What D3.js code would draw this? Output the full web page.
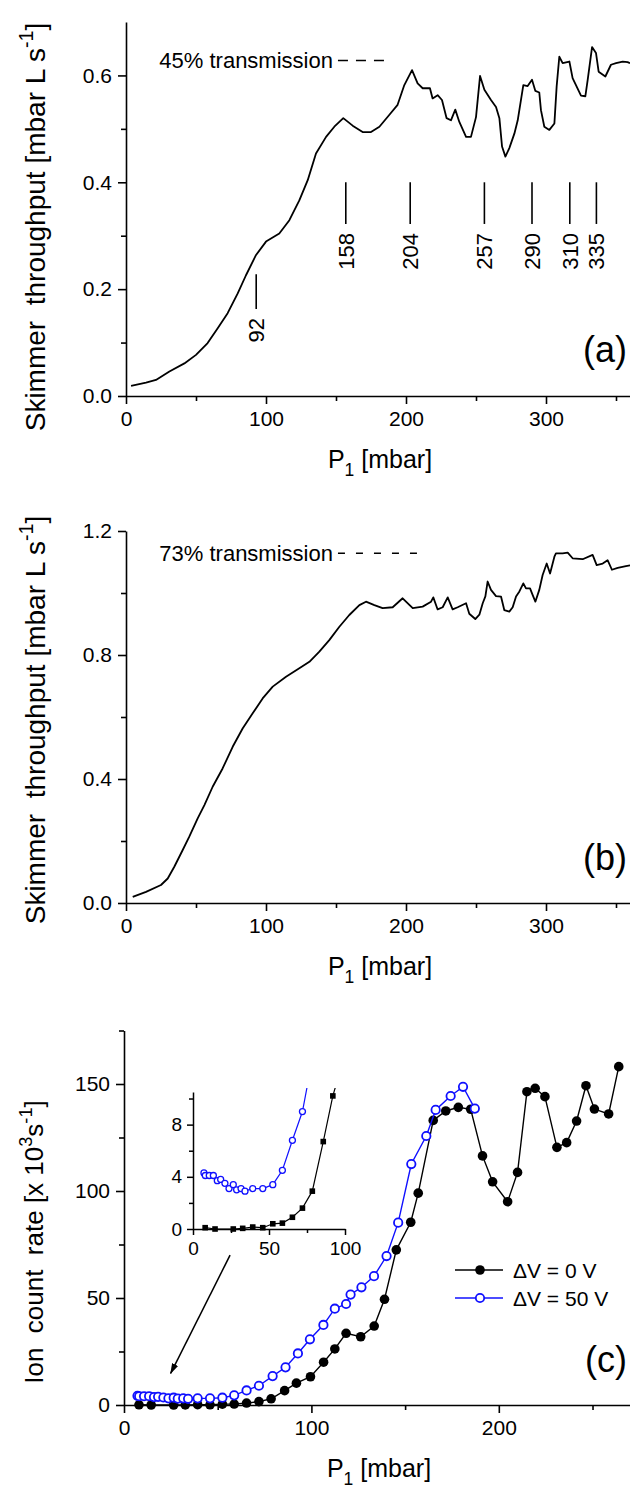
<!DOCTYPE html>
<html>
<head>
<meta charset="utf-8">
<script src="https://cdn.jsdelivr.net/npm/d3@7"></script>
<style>
  body { margin: 0; background: #fff; }
  svg text { font-family: "Liberation Sans", Arial, Helvetica, sans-serif; fill: #000; }
</style>
</head>
<body>
<svg id="fig" width="630" height="1490"></svg>
<script>
// ---- panel (a): skimmer throughput, 45% transmission
const pressureA = [3.6,14.3,21.4,31,41.7,50,58.3,65.5,72.6,79.8,85.7,92.9,100,109.5,116.7,123.8,129.8,135.7,142.9,148.8,155.2,161.9,169,175,181,188,194,198.8,204.3,208.3,211.9,217.1,219,222.6,225.7,229,232.1,235.2,238.1,242.9,246.4,250,252.9,256,260.7,264.3,266.7,268.6,271,273.8,277.4,279.8,283.8,286.9,290,292.4,295.2,296.4,298.8,302.4,306,307.6,309.5,311.9,316.7,319,325,328.1,329.8,332.9,335.7,337.6,342.4,346.4,350,354.8,358.3,360];
const throughputA = [0.019,0.025,0.030,0.046,0.061,0.077,0.099,0.127,0.155,0.192,0.226,0.264,0.289,0.304,0.329,0.366,0.404,0.454,0.485,0.504,0.520,0.506,0.494,0.494,0.504,0.526,0.545,0.582,0.610,0.585,0.576,0.576,0.557,0.563,0.554,0.520,0.516,0.536,0.513,0.485,0.485,0.522,0.599,0.573,0.554,0.541,0.520,0.467,0.448,0.464,0.491,0.516,0.582,0.580,0.592,0.571,0.568,0.535,0.504,0.498,0.510,0.579,0.635,0.623,0.626,0.595,0.562,0.561,0.592,0.653,0.642,0.607,0.598,0.620,0.623,0.626,0.625,0.623];
// marked peaks: position on the axis, printed label, line span (y)
const peakX = [93,157,203,256,290,317,336];
const peakLabels = ["92","158","204","257","290","310","335"];
const peakSpan = [[0.163,0.228],[0.322,0.40],[0.322,0.40],[0.322,0.40],[0.322,0.40],[0.322,0.40],[0.322,0.40]];
const transA = {label: "45% transmission", level: 0.628, from: 151.4, to: 184.3};

// ---- panel (b): skimmer throughput, 73% transmission
const pressureB = [4.8,14.3,25,29.8,34.5,40.5,45.2,51.2,56,61.9,69,76.2,83.3,90.5,97.6,104.8,114.3,123.8,131,138.1,145.2,152.4,159.5,166.7,171.4,177.4,183.3,190.5,197.6,204.8,211.9,217.9,219.5,222.6,226.2,229.8,233.3,236.9,242.9,245.2,249.5,252.4,254.8,256.7,258.3,260.7,264.3,267.9,270.2,273.8,276.2,278.6,281,283.8,285.7,288.6,290.5,292.4,295.2,297.6,300.5,302.9,306,307.1,311.9,315.5,319,326.2,333.3,336.2,340.5,344,347.1,351.2,357.1,360];
const throughputB = [0.020,0.036,0.058,0.079,0.117,0.171,0.214,0.273,0.316,0.375,0.434,0.504,0.563,0.612,0.660,0.698,0.730,0.757,0.778,0.811,0.848,0.891,0.929,0.961,0.972,0.961,0.951,0.954,0.983,0.951,0.956,0.972,0.986,0.947,0.954,0.986,0.947,0.954,0.967,0.933,0.916,0.930,0.967,0.989,1.037,1.010,0.990,0.988,0.945,0.940,0.954,0.989,1.005,1.031,1.015,1.015,0.993,0.972,1.010,1.058,1.095,1.063,1.117,1.128,1.128,1.130,1.112,1.109,1.123,1.090,1.095,1.106,1.075,1.081,1.087,1.089];
const transB = {label: "73% transmission", level: 1.128, from: 151.4, to: 208.6};

// ---- panel (c): ion count rate
const pressureV0 = [8,14.5,26.5,32.7,39.3,45.9,52.5,58.8,65.4,72,78.5,85.7,92,99.5,106.5,112.5,118.5,126.3,133.5,139,145.3,153,157,165,171.7,178.4,185,191.3,196.7,204.7,210,215,219.4,224.6,231,236.2,241.5,246.5,251,258.6,264];
const rateV0 = [0.1,0,0,0.05,0.15,0.1,0.4,0.45,0.9,1.6,2.9,6.7,10.2,13.2,20,26.2,33.5,31.9,36.9,49.4,72.5,85.4,99,133,137.4,139.1,138.2,116.4,104.3,95,108.7,146.4,148,144.1,120.4,122.6,132.7,149.2,138.3,136,158.1];
const pressureV50 = [7.2,8.1,10.7,13.4,16,18.2,21,23.7,26.5,28.7,31.6,34.2,39.3,45.9,52.5,58.8,65.4,72,79.3,86.2,92.8,99.2,106.4,112.5,118.5,120.9,126.7,133.4,140.1,146.3,153.3,161.3,166.3,174.3,180.9,187.2];
const rateV50 = [4.3,4.1,4.1,4.1,3.7,3.8,3.5,3.1,3.4,3.0,3.1,2.9,3.1,3.1,3.4,4.5,6.8,9.0,13.5,17.6,24.1,30.7,37.4,45,47.2,51.6,55,60.2,69.6,85.2,112.6,125.7,137.9,144.4,148.7,138.5];
const legendLabels = ["\u0394V = 0 V", "\u0394V = 50 V"];
// arrow from inset to the low-pressure region, in (c) data units
const arrowFrom = [56.6, 70.0], arrowTo = [24.9, 14.8];

const svg = d3.select("#fig");
const blue = "#1010ff";

svg.append("defs").append("marker")
    .attr("id", "head")
    .attr("viewBox", "0 0 10 10")
    .attr("refX", 9).attr("refY", 5)
    .attr("markerWidth", 11).attr("markerHeight", 11)
    .attr("markerUnits", "userSpaceOnUse")
    .attr("orient", "auto")
  .append("path")
    .attr("d", "M0,2 L10,5 L0,8 Z")
    .attr("fill", "#000");

function drawAxes(x, y, o) {
    let g = svg.append("g");
    let y0 = y.range()[0];
    let x0 = x.range()[0];
    let big = o.big || 8, small = o.small || 5;

    g.append("g").attr("transform", `translate(0,${y0})`)
        .call(d3.axisBottom(x).tickValues(o.xMajor).tickSize(big).tickSizeOuter(0)
            .tickPadding(o.xPad).tickFormat(d3.format("d")));
    g.append("g").attr("transform", `translate(0,${y0})`)
        .call(d3.axisBottom(x).tickValues(o.xMinor).tickSize(small).tickFormat(""))
        .call(s => s.select(".domain").remove());

    g.append("g").attr("transform", `translate(${x0},0)`)
        .call(d3.axisLeft(y).tickValues(o.yMajor).tickSize(big).tickSizeOuter(0)
            .tickPadding(o.yPad).tickFormat(o.yFormat));
    g.append("g").attr("transform", `translate(${x0},0)`)
        .call(d3.axisLeft(y).tickValues(o.yMinor).tickSize(small).tickFormat(""))
        .call(s => s.select(".domain").remove());

    g.selectAll("g").attr("font-family", null).attr("font-size", null);
    g.selectAll(".domain, .tick line").attr("stroke", "#000").attr("stroke-width", o.sw || 1.6);
    g.selectAll(".tick text").style("font-size", o.fs + "px");
    return g;
}

// text made of normal / sup / sub pieces
function richText(g, parts, fs) {
    let t = g.append("text").attr("font-size", fs).attr("xml:space", "preserve").style("white-space", "pre");
    let shift = 0;
    parts.forEach(([s, kind]) => {
        let target = kind === "sup" ? -0.42 * fs : kind === "sub" ? 0.3 * fs : 0;
        t.append("tspan")
            .attr("dy", target - shift)
            .attr("font-size", kind ? fs * 0.7 : fs)
            .text(s);
        shift = target;
    });
    return t;
}

function xLabel(x, y0) {
    let cx = (x.range()[0] + x.range()[1]) / 2;
    let g = svg.append("g").attr("transform", `translate(${cx + 2},${y0 + 72})`);
    richText(g, [["P", ""], ["1", "sub"], [" [mbar]", ""]], 25).attr("text-anchor", "middle");
}

function yLabel(bx, cy, parts, fs) {
    let g = svg.append("g").attr("transform", `translate(${bx},${cy}) rotate(-90)`);
    richText(g, parts, fs).attr("text-anchor", "middle");
}

function tag(txt, yb) {
    svg.append("text").attr("x", 627).attr("y", yb)
        .attr("text-anchor", "end").attr("font-size", 36).text(txt);
}

function transmission(x, y, t, dash) {
    svg.append("text").attr("x", x(t.from) - 5).attr("y", y(t.level) + 7.5)
        .attr("text-anchor", "end").attr("font-size", 22).text(t.label);
    svg.append("line")
        .attr("x1", x(t.from)).attr("x2", x(t.to))
        .attr("y1", y(t.level)).attr("y2", y(t.level))
        .attr("stroke", "#000").attr("stroke-width", 1.5)
        .attr("stroke-dasharray", dash);
}

const skimmerParts = [["Skimmer  throughput [mbar L s", ""], ["-1", "sup"], ["]", ""]];
const line = (x, y) => d3.line().x(d => x(d[0])).y(d => y(d[1]));

// ===== panel (a)
{
    let x = d3.scaleLinear().domain([0, 360]).range([126, 630]);
    let y = d3.scaleLinear().domain([0, 0.7]).range([396, 22]);
    drawAxes(x, y, {
        xMajor: [0, 100, 200, 300], xMinor: [50, 150, 250, 350],
        yMajor: [0, 0.2, 0.4, 0.6], yMinor: [0.1, 0.3, 0.5],
        yFormat: d3.format(".1f"), fs: 21, xPad: 7, yPad: 6
    });
    svg.append("path").datum(d3.zip(pressureA, throughputA))
        .attr("fill", "none").attr("stroke", "#000").attr("stroke-width", 1.8)
        .attr("stroke-linejoin", "round").attr("d", line(x, y));

    peakX.forEach((p, i) => {
        let [lo, hi] = peakSpan[i];
        svg.append("line").attr("x1", x(p)).attr("x2", x(p))
            .attr("y1", y(lo)).attr("y2", y(hi))
            .attr("stroke", "#000").attr("stroke-width", 1.6);
        svg.append("text")
            .attr("transform", `translate(${x(p)},${y(lo) + 9}) rotate(-90)`)
            .attr("text-anchor", "end").attr("dy", "0.36em")
            .attr("font-size", 22).text(peakLabels[i]);
    });
    transmission(x, y, transA, "10,8");
    xLabel(x, 396);
    yLabel(45, 227, skimmerParts, 28);
    tag("(a)", 362);
}

// ===== panel (b)
{
    let x = d3.scaleLinear().domain([0, 360]).range([126, 630]);
    let y = d3.scaleLinear().domain([0, 1.2]).range([903, 531]);
    drawAxes(x, y, {
        xMajor: [0, 100, 200, 300], xMinor: [50, 150, 250, 350],
        yMajor: [0, 0.4, 0.8, 1.2], yMinor: [0.2, 0.6, 1.0],
        yFormat: d3.format(".1f"), fs: 21, xPad: 7, yPad: 6
    });
    svg.append("path").datum(d3.zip(pressureB, throughputB))
        .attr("fill", "none").attr("stroke", "#000").attr("stroke-width", 1.8)
        .attr("stroke-linejoin", "round").attr("d", line(x, y));
    transmission(x, y, transB, "7,11");
    xLabel(x, 903);
    yLabel(45, 720, skimmerParts, 28);
    tag("(b)", 870);
}

// ===== panel (c)
{
    let x = d3.scaleLinear().domain([0, 270]).range([124, 630]);
    let y = d3.scaleLinear().domain([0, 175]).range([1405, 1030.5]);
    drawAxes(x, y, {
        xMajor: [0, 100, 200], xMinor: [50, 150, 250],
        yMajor: [0, 50, 100, 150], yMinor: [25, 75, 125, 175],
        yFormat: d3.format("d"), fs: 21, xPad: 7, yPad: 6
    });
    let v0 = d3.zip(pressureV0, rateV0);
    let v50 = d3.zip(pressureV50, rateV50);

    svg.append("path").datum(v0).attr("fill", "none").attr("stroke", "#000")
        .attr("stroke-width", 1.4).attr("d", line(x, y));
    svg.append("g").selectAll("circle").data(v0).join("circle")
        .attr("cx", d => x(d[0])).attr("cy", d => y(d[1])).attr("r", 4.8).attr("fill", "#000");

    svg.append("path").datum(v50).attr("fill", "none").attr("stroke", blue)
        .attr("stroke-width", 1.4).attr("d", line(x, y));
    svg.append("g").selectAll("circle").data(v50).join("circle")
        .attr("cx", d => x(d[0])).attr("cy", d => y(d[1])).attr("r", 4.2)
        .attr("fill", "#fff").attr("stroke", blue).attr("stroke-width", 1.8);

    // legend
    legendLabels.forEach((lab, i) => {
        let ly = 1270 + i * 28;
        let col = i === 0 ? "#000" : blue;
        svg.append("line").attr("x1", 455).attr("x2", 503).attr("y1", ly).attr("y2", ly)
            .attr("stroke", col).attr("stroke-width", 1.4);
        if (i === 0) {
            svg.append("circle").attr("cx", 480).attr("cy", ly).attr("r", 4.8).attr("fill", "#000");
        } else {
            svg.append("circle").attr("cx", 480).attr("cy", ly).attr("r", 4.2)
                .attr("fill", "#fff").attr("stroke", blue).attr("stroke-width", 1.8);
        }
        svg.append("text").attr("x", 513).attr("y", ly + 7.5).attr("font-size", 21).text(lab);
    });

    svg.append("line")
        .attr("x1", x(arrowFrom[0])).attr("y1", y(arrowFrom[1]))
        .attr("x2", x(arrowTo[0])).attr("y2", y(arrowTo[1]))
        .attr("stroke", "#000").attr("stroke-width", 1.5)
        .attr("marker-end", "url(#head)");

    xLabel(x, 1405);
    yLabel(43, 1242, [["Ion  count  rate [x 10", ""], ["3", "sup"], ["s", ""], ["-1", "sup"], ["]", ""]], 26);
    tag("(c)", 1372);

    // inset: low-pressure detail
    let ix = d3.scaleLinear().domain([0, 100]).range([193, 345]);
    let iy = d3.scaleLinear().domain([0, 10.5]).range([1229, 1092]);
    drawAxes(ix, iy, {
        xMajor: [0, 50, 100], xMinor: [25, 75],
        yMajor: [0, 4, 8], yMinor: [2, 6, 10],
        yFormat: d3.format("d"), fs: 19, xPad: 7, yPad: 5, big: 6, small: 4, sw: 1.5
    });
    svg.append("clipPath").attr("id", "inclip").append("rect")
        .attr("x", 190).attr("y", 1088).attr("width", 160).attr("height", 145);
    let ins = svg.append("g").attr("clip-path", "url(#inclip)");
    ins.append("path").datum(v0).attr("fill", "none").attr("stroke", "#000")
        .attr("stroke-width", 1.2).attr("d", line(ix, iy));
    ins.append("g").selectAll("rect").data(v0.filter(d => d[0] <= 100 && d[1] <= 10.5)).join("rect")
        .attr("x", d => ix(d[0]) - 2.8).attr("y", d => iy(d[1]) - 2.8)
        .attr("width", 5.6).attr("height", 5.6).attr("fill", "#000");
    ins.append("path").datum(v50).attr("fill", "none").attr("stroke", blue)
        .attr("stroke-width", 1.2).attr("d", line(ix, iy));
    ins.append("g").selectAll("circle").data(v50.filter(d => d[0] <= 100 && d[1] <= 10.5)).join("circle")
        .attr("cx", d => ix(d[0])).attr("cy", d => iy(d[1])).attr("r", 3)
        .attr("fill", "#fff").attr("stroke", blue).attr("stroke-width", 1.3);
}
</script>
</body>
</html>
